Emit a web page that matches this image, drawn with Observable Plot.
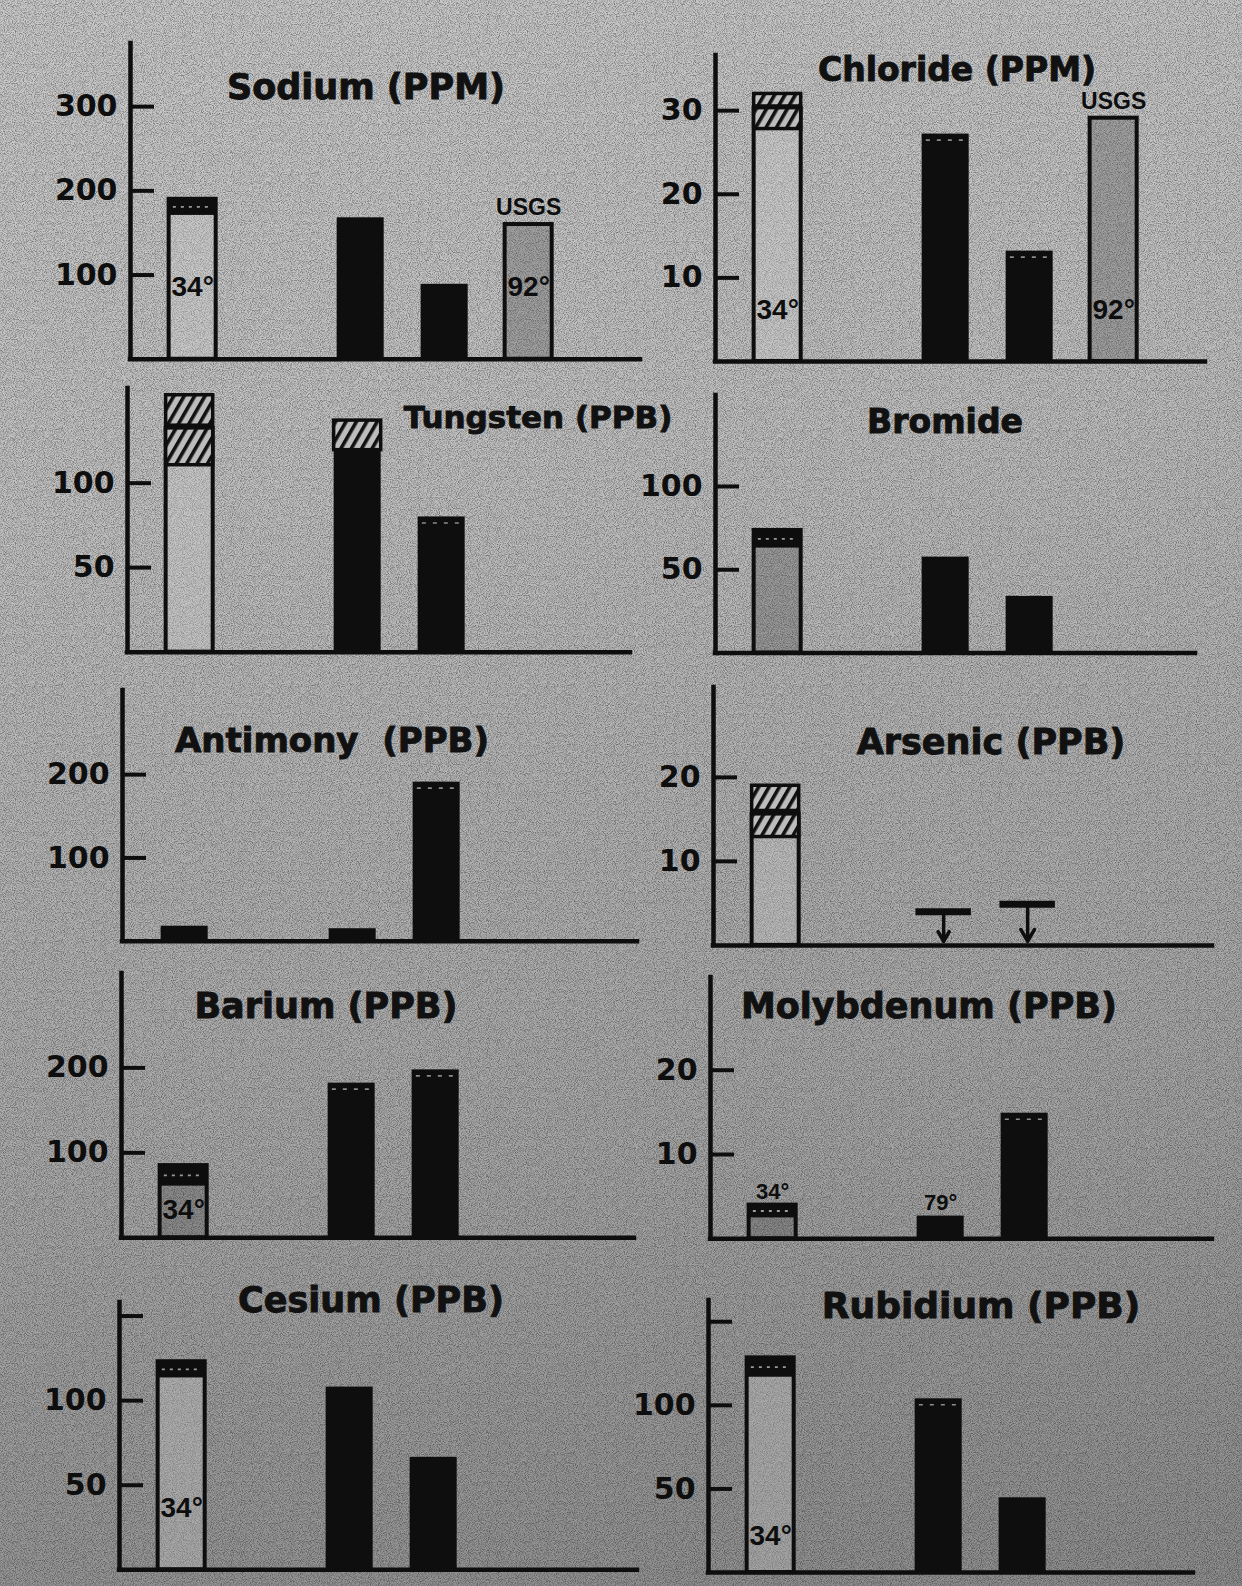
<!DOCTYPE html>
<html>
<head>
<meta charset="utf-8">
<script src="https://cdn.jsdelivr.net/npm/d3@7"></script>
<script src="https://cdn.jsdelivr.net/npm/@observablehq/plot@0.6"></script>
<style>
html, body { margin: 0; padding: 0; }
body { width: 1242px; height: 1586px; overflow: hidden; }
#page { position: relative; width: 1242px; height: 1586px; overflow: hidden;
  background: linear-gradient(170deg, #cacaca 0%, #c0c0c0 30%, #a9a9a9 65%, #8c8c8c 100%); }
#noise { position: absolute; left: 0; top: 0; width: 1242px; height: 1586px; opacity: 0.42;
  background-image: url("data:image/svg+xml,%3Csvg xmlns='http://www.w3.org/2000/svg' width='256' height='256'%3E%3Cfilter id='n'%3E%3CfeTurbulence type='fractalNoise' baseFrequency='1.1' numOctaves='1' stitchTiles='stitch'/%3E%3CfeColorMatrix type='matrix' values='0 0 0 0 0 0 0 0 0 0 0 0 0 0 0 2.6 0 0 0 -1.05'/%3E%3C/filter%3E%3Crect width='256' height='256' filter='url(%23n)'/%3E%3C/svg%3E"); }
.title { position: absolute; font-family: "DejaVu Sans", sans-serif; font-weight: bold; color: #111;
  white-space: pre; line-height: 1; transform: translateX(-50%); -webkit-text-stroke: 0.9px #111; }
</style>
</head>
<body>
<div id="page"><div id="noise"></div></div>
<script>
// ---------------- DATA ----------------
// Sample columns along each x axis (column 2 is an empty slot).
// Kinds: "open" = outlined light bar, "shaded" = outlined grey bar, "solid" = black bar.

// Sodium (PPM)
const sodiumTicks = [100, 200, 300];
const sodiumCols = [1, 3, 4, 5];
const sodiumVals = [190, 168, 89, 160];
const sodiumKinds = ["open", "solid", "solid", "shaded"];
const sodiumDark = [{col: 1, lo: 172, hi: 190}];
const sodiumLabels = [{col: 1, text: "34°", pos: "in"}, {col: 5, text: "92°", pos: "in"}, {col: 5, text: "USGS", pos: "usgs"}];

// Chloride (PPM)
const chlorideTicks = [10, 20, 30];
const chlorideCols = [1, 3, 4, 5];
const chlorideVals = [30.3, 27.2, 13.2, 29.1];
const chlorideKinds = ["open", "solid", "solid", "shaded"];
const chlorideHatch = [{col: 1, lo: 27.8, hi: 30.3}, {col: 1, lo: 30.5, hi: 32.0}];
const chlorideDotted = [3, 4];
const chlorideLabels = [{col: 1, text: "34°", pos: "in"}, {col: 5, text: "92°", pos: "in"}, {col: 5, text: "USGS", pos: "usgs"}];

// Tungsten (PPB)
const tungstenTicks = [50, 100];
const tungstenCols = [1, 3, 4];
const tungstenVals = [132.4, 119.5, 80];
const tungstenKinds = ["open", "solid", "solid"];
const tungstenHatch = [{col: 1, lo: 110.6, hi: 132.4}, {col: 1, lo: 134, hi: 152}, {col: 3, lo: 119.5, hi: 137}];
const tungstenDotted = [4];

// Bromide
const bromideTicks = [50, 100];
const bromideCols = [1, 3, 4];
const bromideVals = [73.6, 57.6, 34];
const bromideKinds = ["shaded", "solid", "solid"];
const bromideDark = [{col: 1, lo: 63.6, hi: 73.6}];

// Antimony (PPB)
const antimonyTicks = [100, 200];
const antimonyCols = [1, 3, 4];
const antimonyVals = [18, 15, 191];
const antimonyKinds = ["solid", "solid", "solid"];
const antimonyDotted = [4];

// Arsenic (PPB)
const arsenicTicks = [10, 20];
const arsenicCols = [1];
const arsenicVals = [15.6];
const arsenicKinds = ["open"];
const arsenicHatch = [{col: 1, lo: 12.9, hi: 15.6}, {col: 1, lo: 16.0, hi: 19.0}];
const arsenicLimitCols = [3, 4];      // "less than" detection limits
const arsenicLimitVals = [4.0, 4.9];

// Barium (PPB)
const bariumTicks = [100, 200];
const bariumCols = [1, 3, 4];
const bariumVals = [85, 182, 197.6];
const bariumKinds = ["shaded", "solid", "solid"];
const bariumDark = [{col: 1, lo: 62, hi: 85}];
const bariumDotted = [3, 4];
const bariumLabels = [{col: 1, text: "34°", pos: "in"}];

// Molybdenum (PPB)
const molyTicks = [10, 20];
const molyCols = [1, 3, 4];
const molyVals = [4.0, 2.7, 14.9];
const molyKinds = ["shaded", "solid", "solid"];
const molyDark = [{col: 1, lo: 2.6, hi: 4.0}];
const molyDotted = [4];
const molyLabels = [{col: 1, text: "34°", pos: "above"}, {col: 3, text: "79°", pos: "above"}];

// Cesium (PPB)
const cesiumTicks = [50, 100, 150];
const cesiumTickLabels = ["50", "100", ""];
const cesiumCols = [1, 3, 4];
const cesiumVals = [123, 108, 66.5];
const cesiumKinds = ["open", "solid", "solid"];
const cesiumDark = [{col: 1, lo: 114, hi: 123}];
const cesiumLabels = [{col: 1, text: "34°", pos: "in"}];

// Rubidium (PPB)
const rubidiumTicks = [50, 100, 150];
const rubidiumTickLabels = ["50", "100", ""];
const rubidiumCols = [1, 3, 4];
const rubidiumVals = [128.4, 103.9, 44.7];
const rubidiumKinds = ["open", "solid", "solid"];
const rubidiumDark = [{col: 1, lo: 117.4, hi: 128.4}];
const rubidiumDotted = [3];
const rubidiumLabels = [{col: 1, text: "34°", pos: "in"}];

// ---------------- LAYOUT / STYLE ----------------
const STEP = 84;      // px per sample column
const HALF = 0.28;    // half bar width (columns)
const D0 = 0.26;      // domain value at the y axis
const INK = "#0e0e0e";
const OPEN_FILL = "rgba(205,205,205,0.30)";
const SHADED_FILL = "rgba(70,70,70,0.28)";
const page = document.getElementById("page");

const panels = [
  {title: "Sodium (PPM)", tx: 366, tb: 100, ts: 35, axisX: 130, zeroY: 359, ppu: 0.842, yMax: 375, xEnd: 640,
   ticks: sodiumTicks, cols: sodiumCols, vals: sodiumVals, kinds: sodiumKinds, dark: sodiumDark, labels: sodiumLabels, inDy: 72},
  {title: "Chloride (PPM)", tx: 957, tb: 81, ts: 33, axisX: 715, zeroY: 361, ppu: 8.36, yMax: 36.6, xEnd: 1205,
   ticks: chlorideTicks, cols: chlorideCols, vals: chlorideVals, kinds: chlorideKinds, hatch: chlorideHatch, dotted: chlorideDotted, labels: chlorideLabels, inDy: 51},
  {title: "Tungsten (PPB)", tx: 538, tb: 428, ts: 31, axisX: 127, zeroY: 652, ppu: 1.69, yMax: 156, xEnd: 630,
   ticks: tungstenTicks, cols: tungstenCols, vals: tungstenVals, kinds: tungstenKinds, hatch: tungstenHatch, dotted: tungstenDotted},
  {title: "Bromide", tx: 945, tb: 433, ts: 33, axisX: 715, zeroY: 652.5, ppu: 1.666, yMax: 154.6, xEnd: 1195,
   ticks: bromideTicks, cols: bromideCols, vals: bromideVals, kinds: bromideKinds, dark: bromideDark},
  {title: "Antimony  (PPB)", tx: 332, tb: 752, ts: 34, axisX: 122, zeroY: 941, ppu: 0.833, yMax: 301, xEnd: 637,
   ticks: antimonyTicks, cols: antimonyCols, vals: antimonyVals, kinds: antimonyKinds, dotted: antimonyDotted},
  {title: "Arsenic (PPB)", tx: 991, tb: 755, ts: 35, axisX: 713, zeroY: 944.5, ppu: 8.4, yMax: 30.7, xEnd: 1212,
   ticks: arsenicTicks, cols: arsenicCols, vals: arsenicVals, kinds: arsenicKinds, hatch: arsenicHatch,
   limits: arsenicLimitCols.map((col, i) => ({col, value: arsenicLimitVals[i]}))},
  {title: "Barium (PPB)", tx: 326, tb: 1019, ts: 35, axisX: 121, zeroY: 1237.5, ppu: 0.85, yMax: 311, xEnd: 634,
   ticks: bariumTicks, cols: bariumCols, vals: bariumVals, kinds: bariumKinds, dark: bariumDark, dotted: bariumDotted, labels: bariumLabels, inDy: 28},
  {title: "Molybdenum (PPB)", tx: 929, tb: 1019, ts: 35, axisX: 710, zeroY: 1238.5, ppu: 8.43, yMax: 31, xEnd: 1212,
   ticks: molyTicks, cols: molyCols, vals: molyVals, kinds: molyKinds, dark: molyDark, dotted: molyDotted, labels: molyLabels},
  {title: "Cesium (PPB)", tx: 371, tb: 1313, ts: 35, axisX: 119, zeroY: 1569, ppu: 1.692, yMax: 158, xEnd: 637,
   ticks: cesiumTicks, tickLabels: cesiumTickLabels, cols: cesiumCols, vals: cesiumVals, kinds: cesiumKinds, dark: cesiumDark, labels: cesiumLabels, inDy: 62},
  {title: "Rubidium (PPB)", tx: 981, tb: 1318, ts: 36, axisX: 708, zeroY: 1572, ppu: 1.672, yMax: 162.7, xEnd: 1193,
   ticks: rubidiumTicks, tickLabels: rubidiumTickLabels, cols: rubidiumCols, vals: rubidiumVals, kinds: rubidiumKinds, dark: rubidiumDark, dotted: rubidiumDotted, labels: rubidiumLabels, inDy: 37}
];

panels.forEach((p, k) => {
  const mL = 110, mR = 12, mT = 12, mB = 12;
  const plotW = p.xEnd - p.axisX;
  const plotH = p.yMax * p.ppu;
  const d1 = D0 + plotW / STEP;
  const bars = p.cols.map((col, i) => ({col, value: p.vals[i], kind: p.kinds[i]}));
  const valueAt = col => p.vals[p.cols.indexOf(col)];
  const x1 = d => d.col - HALF, x2 = d => d.col + HALF;
  const dark = p.dark || [], hatch = p.hatch || [], limits = p.limits || [];
  const dotted = bars.filter(d => (p.dotted || []).includes(d.col));
  const labels = p.labels || [];
  const tickLabels = p.tickLabels || p.ticks.map(String);
  const hatchFill = `url(#hatch${k})`;

  const svg = Plot.plot({
    width: mL + plotW + mR, height: mT + plotH + mB,
    marginLeft: mL, marginRight: mR, marginTop: mT, marginBottom: mB,
    x: {type: "linear", domain: [D0, d1], axis: null},
    y: {type: "linear", domain: [0, p.yMax], axis: null},
    style: {background: "transparent", overflow: "visible"},
    marks: [
      // bars
      Plot.rect(bars.filter(d => d.kind === "solid"), {x1, x2, y1: () => 0, y2: "value", fill: INK}),
      Plot.rect(bars.filter(d => d.kind === "open"), {x1, x2, y1: () => 0, y2: "value", fill: OPEN_FILL, stroke: INK, strokeWidth: 4}),
      Plot.rect(bars.filter(d => d.kind === "shaded"), {x1, x2, y1: () => 0, y2: "value", fill: SHADED_FILL, stroke: INK, strokeWidth: 4}),
      // dark capping bands
      Plot.rect(dark, {x1, x2, y1: "lo", y2: "hi", fill: INK, stroke: INK, strokeWidth: 2}),
      Plot.ruleY(dark, {y: d => (d.lo + d.hi) / 2, x1: d => d.col - HALF + 0.05, x2: d => d.col + HALF - 0.05,
        stroke: "#9a9a9a", strokeWidth: 1.8, strokeDasharray: "3 5"}),
      // hatched ranges
      Plot.rect(hatch, {x1, x2, y1: "lo", y2: "hi", fill: hatchFill, stroke: INK, strokeWidth: 3.5}),
      // faint dotted line near the top of some black bars
      Plot.ruleY(dotted, {y: "value", dy: 6, x1: d => d.col - HALF + 0.05, x2: d => d.col + HALF - 0.05,
        stroke: "#8c8c8c", strokeWidth: 1.6, strokeDasharray: "4 7"}),
      // detection-limit markers
      Plot.ruleY(limits, {y: "value", x1: d => d.col - 0.33, x2: d => d.col + 0.33, stroke: INK, strokeWidth: 7}),
      Plot.arrow(limits, {x1: "col", x2: "col", y1: "value", y2: () => 0, stroke: INK, strokeWidth: 3.5, headLength: 10, insetStart: 3, insetEnd: 4}),
      // axes
      Plot.ruleX([D0], {y1: () => 0, y2: () => p.yMax, stroke: INK, strokeWidth: 4.5, strokeLinecap: "square"}),
      Plot.ruleY([0], {x1: () => D0, x2: () => d1, stroke: INK, strokeWidth: 4.5, strokeLinecap: "square"}),
      Plot.ruleY(p.ticks, {y: d => d, x1: () => D0, x2: () => D0 + 24 / STEP, stroke: INK, strokeWidth: 4}),
      Plot.text(p.ticks, {x: () => D0, y: d => d, text: (d, i) => tickLabels[i], dx: -13, textAnchor: "end",
        fontSize: 30, fontWeight: "bold", fontFamily: "DejaVu Sans", fill: INK}),
      // annotations
      Plot.text(labels.filter(d => d.pos === "in"), {x: "col", y: () => 0, dy: -(p.inDy || 0), text: "text",
        fontSize: 28, fontWeight: "bold", fontFamily: "Liberation Sans", fill: INK}),
      Plot.text(labels.filter(d => d.pos === "usgs"), {x: "col", y: d => valueAt(d.col), dy: -17, text: "text",
        fontSize: 23, fontWeight: "bold", fontFamily: "Liberation Sans", fill: INK}),
      Plot.text(labels.filter(d => d.pos === "above"), {x: "col", y: d => valueAt(d.col), dy: -13, text: "text",
        fontSize: 22, fontWeight: "bold", fontFamily: "Liberation Sans", fill: INK})
    ]
  });
  d3.select(svg).insert("defs", ":first-child").html(
    `<pattern id="hatch${k}" patternUnits="userSpaceOnUse" width="9" height="9" patternTransform="rotate(30)">` +
    `<rect width="9" height="9" fill="#bdbdbd"/><rect width="3.6" height="9" fill="#111"/></pattern>`);
  svg.style.position = "absolute";
  svg.style.left = (p.axisX - mL) + "px";
  svg.style.top = (p.zeroY - plotH - mT) + "px";
  page.appendChild(svg);

  const t = document.createElement("div");
  t.className = "title";
  t.textContent = p.title;
  t.style.fontSize = p.ts + "px";
  t.style.left = p.tx + "px";
  t.style.top = (p.tb - 0.846 * p.ts) + "px";
  page.appendChild(t);
});
</script>
</body>
</html>
